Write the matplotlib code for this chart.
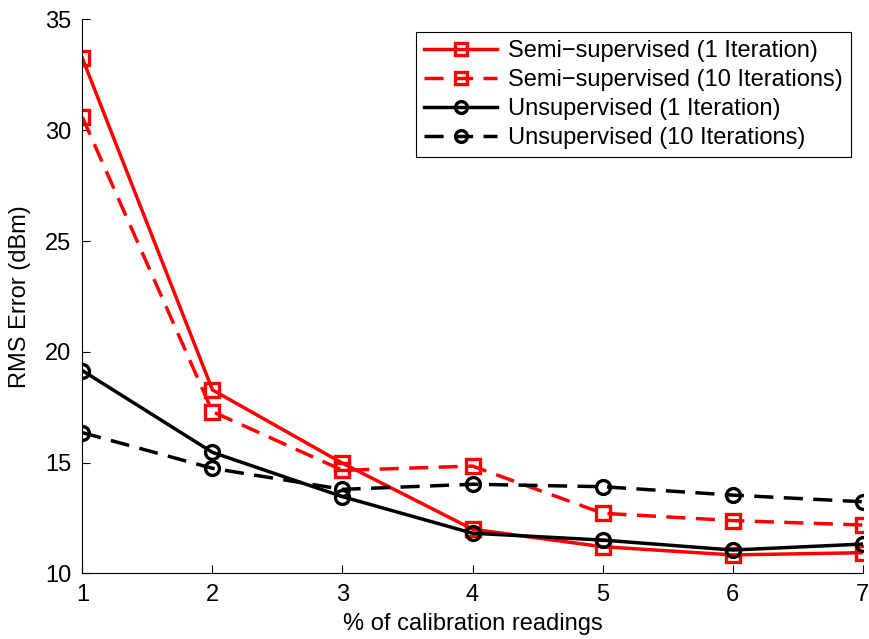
import matplotlib
matplotlib.use("Agg")
import matplotlib.pyplot as plt

plt.rcParams['font.family'] = ['Liberation Sans', 'DejaVu Sans']

x = [1, 2, 3, 4, 5, 6, 7]
semi_1 = [33.25, 18.28, 14.97, 11.99, 11.20, 10.83, 10.93]
semi_10 = [30.59, 17.30, 14.65, 14.84, 12.71, 12.38, 12.18]
unsup_1 = [19.15, 15.46, 13.46, 11.81, 11.50, 11.05, 11.32]
unsup_10 = [16.35, 14.74, 13.79, 14.02, 13.91, 13.53, 13.23]
labels = ["Semi\u2212supervised (1 Iteration)", "Semi\u2212supervised (10 Iterations)",
          "Unsupervised (1 Iteration)", "Unsupervised (10 Iterations)"]

fs = 17
fig = plt.figure(figsize=(8.7, 6.39), dpi=100)
ax = fig.add_axes([0.0947, 0.1028, 0.8969, 0.8667])

lw = 2.5
ms = 9.5
mew = 2.4
dash = (0, (5.5, 3))
ax.plot(x, semi_1, color='red', lw=lw, marker='s', ms=ms, mew=mew, mfc='none', label=labels[0])
ax.plot(x, semi_10, color='red', lw=lw, ls=dash, marker='s', ms=ms, mew=mew, mfc='none', label=labels[1])
ax.plot(x, unsup_1, color='black', lw=lw, marker='o', ms=ms + 0.5, mew=mew, mfc='none', label=labels[2])
ax.plot(x, unsup_10, color='black', lw=lw, ls=dash, marker='o', ms=ms + 0.5, mew=mew, mfc='none', label=labels[3])

ax.set_xlim(1, 7)
ax.set_ylim(10, 35)
ax.set_xticks(x)
ax.set_yticks([10, 15, 20, 25, 30, 35])
ax.spines['top'].set_visible(False)
ax.spines['right'].set_visible(False)
ax.tick_params(direction='in', length=6, labelsize=fs, width=0.8, pad=8)
ax.set_xlabel("% of calibration readings", fontsize=fs, labelpad=5)
ax.set_ylabel("RMS Error (dBm)", fontsize=fs, labelpad=10)
for sp in ax.spines.values():
    sp.set_linewidth(0.8)

leg = ax.legend(loc='upper right', bbox_to_anchor=(851 / 870, 1 - 31.7 / 639),
                bbox_transform=fig.transFigure, fontsize=fs, handlelength=3.1,
                frameon=True, fancybox=False, edgecolor='black', framealpha=1,
                borderpad=0.35, labelspacing=0.3, handletextpad=0.45, borderaxespad=0,
                markerscale=0.85)
leg.get_frame().set_linewidth(0.8)

fig.savefig("out.png", dpi=100)
